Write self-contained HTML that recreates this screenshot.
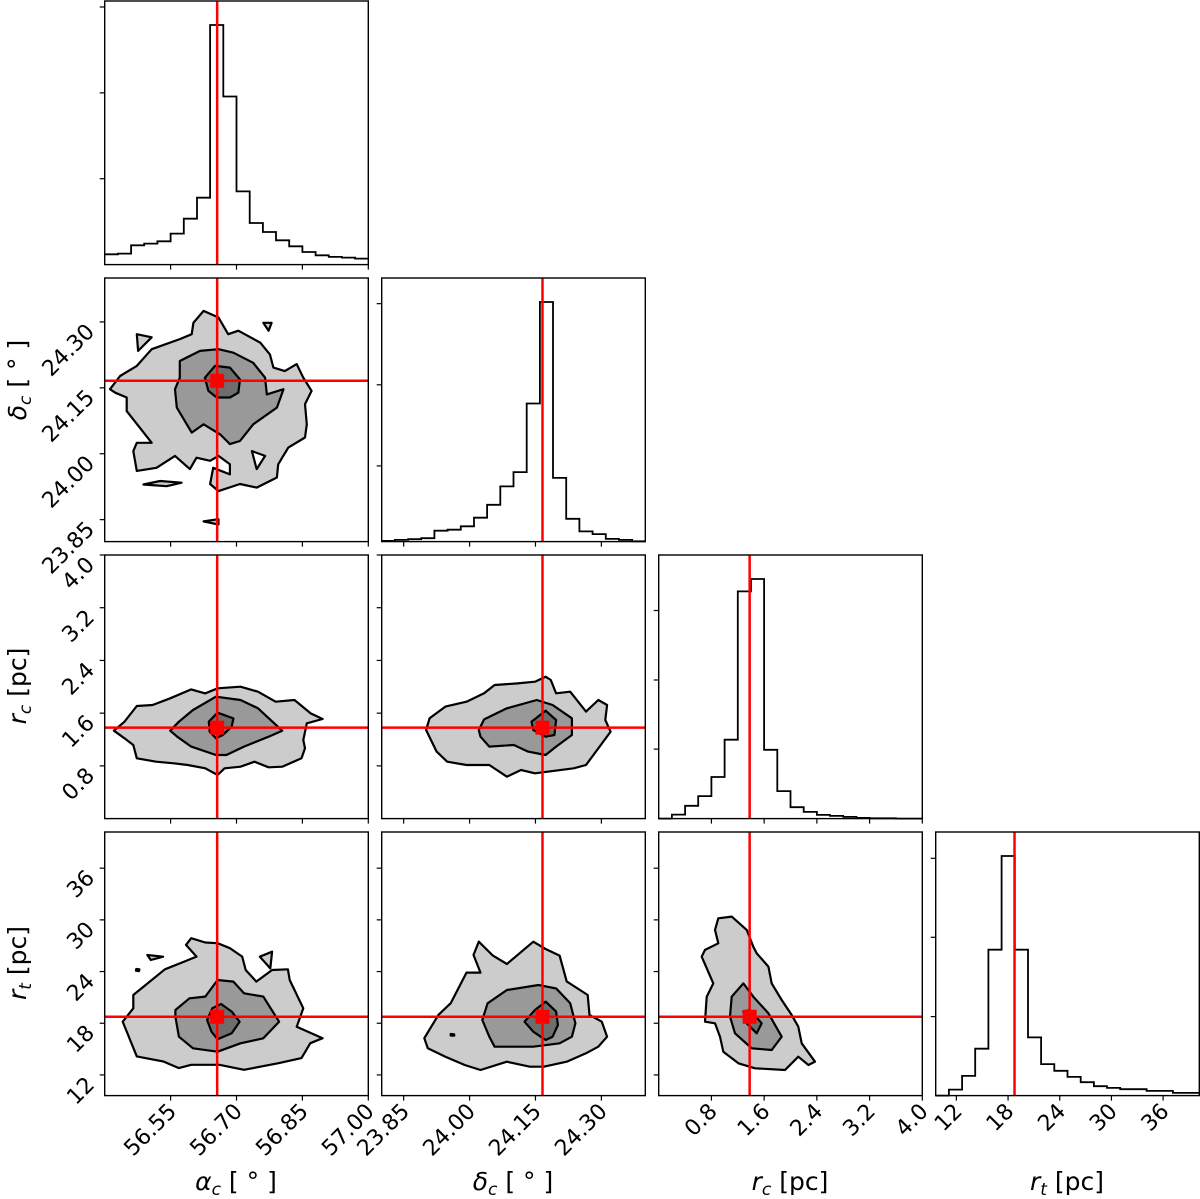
<!DOCTYPE html>
<html><head><meta charset="utf-8"><style>
html,body{margin:0;padding:0;background:#fff;}
svg{display:block;font-family:"DejaVu Sans","Liberation Sans",sans-serif;}
</style></head><body>
<svg id="fig" xmlns="http://www.w3.org/2000/svg" width="1200" height="1199" viewBox="0 0 1200 1199"></svg>
<script>
const paramNames=["alpha","delta","rc","rt"];
const paramRanges=[[56.4,57.0],[23.8,24.4],[0,4],[9.6,40.2]];
const truthValues=[56.656,24.166,1.38,18.75];
const tickValues=[[56.55,56.70,56.85,57.00],[23.85,24.00,24.15,24.30],[0.8,1.6,2.4,3.2,4.0],[12,18,24,30,36]];
const tickLabels=[["56.55","56.70","56.85","57.00"],["23.85","24.00","24.15","24.30"],["0.8","1.6","2.4","3.2","4.0"],["12","18","24","30","36"]];
const histAlpha=[31,33,58,63,70,93,138,201,720,505,220,125,98,73,55,38,28,23,21,18];
const histDelta=[2,5,7,10,32,35,45,70,108,162,204,405,703,187,67,30,22,8,5,1];
const histRc=[0,12,38,67,124,235,677,714,205,82,34,20,11,8,5,2,1,1,0,0];
const histRt=[0,18,59,140,436,716,436,174,94,74,56,40,28,23,19,19,14,14,8,8];
const histTicks=[[258,516,774],[222,460,698],[207,413,620],[236,473,709]];
const c10o=[[56.412,24.147],[56.435,24.177],[56.473,24.200],[56.507,24.238],[56.571,24.261],[56.598,24.272],[56.602,24.298],[56.625,24.325],[56.659,24.310],[56.681,24.272],[56.704,24.280],[56.754,24.253],[56.776,24.226],[56.784,24.196],[56.810,24.188],[56.837,24.204],[56.852,24.173],[56.871,24.143],[56.856,24.113],[56.860,24.067],[56.856,24.037],[56.818,24.014],[56.795,23.976],[56.792,23.946],[56.746,23.923],[56.708,23.931],[56.659,23.915],[56.640,23.931],[56.647,23.968],[56.685,23.953],[56.685,23.976],[56.659,23.995],[56.640,23.984],[56.609,23.991],[56.594,23.965],[56.560,23.995],[56.518,23.968],[56.473,23.961],[56.465,24.006],[56.473,24.025],[56.507,24.025],[56.450,24.097],[56.450,24.128],[56.424,24.139]];
const c10m=[[56.571,24.211],[56.617,24.234],[56.659,24.238],[56.693,24.230],[56.738,24.207],[56.765,24.173],[56.769,24.135],[56.807,24.147],[56.792,24.105],[56.738,24.067],[56.708,24.029],[56.685,24.022],[56.663,24.044],[56.625,24.067],[56.598,24.048],[56.564,24.105],[56.560,24.147],[56.571,24.173]];
const c10i=[[56.628,24.173],[56.651,24.200],[56.685,24.196],[56.708,24.169],[56.704,24.139],[56.685,24.128],[56.655,24.128],[56.636,24.143]];
const c10islandA=[[56.473,24.272],[56.507,24.265],[56.476,24.234]];
const c10islandB=[[56.761,24.298],[56.780,24.298],[56.773,24.280]];
const c10islandC=[[56.526,23.938],[56.575,23.934],[56.541,23.926],[56.488,23.930]];
const c10islandD=[[56.625,23.846],[56.659,23.851],[56.659,23.839]];
const c10hole=[[56.735,24.006],[56.765,23.995],[56.746,23.965]];
const c20o=[[56.421,1.334],[56.445,1.471],[56.473,1.709],[56.509,1.724],[56.549,1.825],[56.597,1.961],[56.629,1.900],[56.657,1.977],[56.709,2.002],[56.749,1.926],[56.789,1.774],[56.832,1.800],[56.869,1.597],[56.896,1.511],[56.860,1.446],[56.852,1.193],[56.856,1.067],[56.848,0.915],[56.804,0.788],[56.773,0.778],[56.741,0.864],[56.709,0.788],[56.673,0.763],[56.657,0.662],[56.629,0.763],[56.589,0.813],[56.557,0.839],[56.517,0.864],[56.473,0.915],[56.465,1.117],[56.445,1.218]];
const c20m=[[56.549,1.334],[56.569,1.471],[56.601,1.648],[56.653,1.850],[56.709,1.800],[56.749,1.673],[56.804,1.334],[56.773,1.243],[56.717,1.092],[56.677,0.965],[56.653,0.965],[56.597,1.092],[56.565,1.243]];
const c20i=[[56.637,1.471],[56.657,1.607],[56.693,1.521],[56.689,1.395],[56.669,1.269],[56.653,1.218],[56.639,1.319]];
const c21o=[[23.901,1.345],[23.909,1.522],[23.945,1.699],[23.993,1.774],[24.033,1.901],[24.057,2.027],[24.109,2.052],[24.149,2.078],[24.173,2.153],[24.185,2.103],[24.197,1.901],[24.229,1.926],[24.265,1.623],[24.293,1.800],[24.313,1.724],[24.309,1.496],[24.321,1.319],[24.293,1.066],[24.265,0.813],[24.237,0.763],[24.149,0.687],[24.117,0.738],[24.085,0.636],[24.045,0.813],[23.993,0.813],[23.949,0.864],[23.925,1.016]];
const c21m=[[24.021,1.345],[24.033,1.506],[24.085,1.673],[24.153,1.800],[24.189,1.724],[24.233,1.522],[24.233,1.269],[24.197,1.092],[24.173,0.965],[24.133,1.016],[24.101,1.117],[24.045,1.092],[24.025,1.243]];
const c21i=[[24.141,1.471],[24.173,1.638],[24.197,1.496],[24.193,1.269],[24.173,1.243],[24.145,1.345]];
const c30o=[[56.441,18.18],[56.465,19.73],[56.465,21.28],[56.493,22.44],[56.537,24.26],[56.581,25.16],[56.609,25.74],[56.585,27.09],[56.597,27.87],[56.629,27.37],[56.657,27.29],[56.685,26.71],[56.713,25.74],[56.721,24.18],[56.745,22.83],[56.781,24.18],[56.817,24.26],[56.821,23.02],[56.852,19.73],[56.837,17.59],[56.896,16.26],[56.868,15.68],[56.848,13.95],[56.797,13.37],[56.717,12.59],[56.661,13.18],[56.597,13.18],[56.569,12.79],[56.533,13.57],[56.473,14.15]];
const c30m=[[56.561,18.76],[56.561,19.54],[56.593,20.89],[56.629,21.09],[56.657,23.02],[56.693,22.83],[56.717,21.47],[56.761,21.09],[56.797,18.18],[56.761,16.25],[56.709,15.67],[56.657,14.70],[56.601,15.09],[56.569,16.44]];
const c30i=[[56.633,18.38],[56.645,19.73],[56.665,20.23],[56.689,19.35],[56.707,18.18],[56.689,16.83],[56.657,16.13],[56.643,17.02]];
const c30islandA=[[56.497,25.92],[56.533,25.73],[56.505,25.34]];
const c30islandB=[[56.753,25.73],[56.781,26.31],[56.777,24.37]];
const c30islandC=[[56.472,24.30],[56.479,24.25],[56.478,24.05],[56.471,24.10]];
const c31o=[[23.897,16.26],[23.929,18.97],[23.957,20.33],[23.993,23.88],[24.025,23.88],[24.009,25.92],[24.021,27.47],[24.053,25.85],[24.085,24.88],[24.145,27.47],[24.173,26.62],[24.205,25.85],[24.221,22.86],[24.269,21.28],[24.273,18.96],[24.301,18.18],[24.313,16.44],[24.293,15.28],[24.265,14.51],[24.221,13.54],[24.169,12.96],[24.137,12.96],[24.085,13.54],[24.025,12.57],[23.989,13.15],[23.945,14.12],[23.905,15.09]];
const c31m=[[24.029,18.38],[24.041,20.31],[24.085,21.86],[24.157,22.44],[24.197,22.05],[24.229,20.31],[24.241,17.99],[24.233,16.44],[24.205,15.67],[24.145,15.28],[24.057,15.28],[24.045,16.44]];
const c31i=[[24.125,18.18],[24.149,19.54],[24.173,20.51],[24.197,19.35],[24.201,17.79],[24.189,16.44],[24.173,16.05],[24.145,17.02]];
const c31islandA=[[23.957,16.75],[23.965,16.70],[23.965,16.55],[23.957,16.58]];
const c32o=[[0.703,18.18],[0.728,21.08],[0.829,22.63],[0.652,25.73],[0.703,26.51],[0.905,27.28],[0.854,28.83],[0.905,30.18],[1.107,30.38],[1.335,28.83],[1.436,26.89],[1.487,26.12],[1.664,24.57],[1.715,22.63],[1.866,20.70],[2.018,18.96],[2.119,17.60],[2.170,15.67],[2.372,13.54],[2.271,13.15],[2.119,14.12],[1.917,12.57],[1.461,12.77],[1.209,13.35],[0.981,14.70],[0.930,16.44],[0.854,17.99]];
const c32m=[[1.082,18.76],[1.107,21.08],[1.285,22.63],[1.436,21.08],[1.664,19.15],[1.866,16.44],[1.715,14.89],[1.411,15.09],[1.158,16.83]];
const c32i=[[1.284,19.34],[1.385,19.54],[1.563,17.99],[1.487,16.83],[1.335,17.99]];

const NS="http://www.w3.org/2000/svg";
const svg=document.getElementById('fig');
const L0=104.7,T0=1,PITCH=277,W=263.6;
function colLeft(c){return L0+c*PITCH;}
function rowTop(r){return T0+r*PITCH;}
function xScale(c,v){const[a,b]=paramRanges[c];return colLeft(c)+(v-a)/(b-a)*W;}
function yScale(r,v){const[a,b]=paramRanges[r];return rowTop(r)+W-(v-a)/(b-a)*W;}
function mk(tag,attrs,parent){const e=document.createElementNS(NS,tag);for(const k in attrs)e.setAttribute(k,attrs[k]);(parent||svg).appendChild(e);return e;}

function drawPoly(g,r,c,pts,fill,name){
  const d=pts.map((p,i)=>(i?'L':'M')+xScale(c,p[0]).toFixed(1)+','+yScale(r,p[1]).toFixed(1)).join('')+'Z';
  const p=mk('path',{d:d,fill:fill,stroke:'#000','stroke-width':2.2,'stroke-linejoin':'round'},g);
  
  
}
const g1='#cccccc',g2='#999999',g3='#6e6e6e';
const contourSets=[
 [1,0,[[c10o,g1],[c10islandA,g1],[c10islandB,g1],[c10islandC,g1],[c10islandD,g1],[c10hole,'#fff'],[c10m,g2],[c10i,g3]]],
 [2,0,[[c20o,g1],[c20m,g2],[c20i,g3]]],
 [2,1,[[c21o,g1],[c21m,g2],[c21i,g3]]],
 [3,0,[[c30o,g1],[c30islandA,g1],[c30islandB,g1],[c30islandC,g1],[c30m,g2],[c30i,g3]]],
 [3,1,[[c31o,g1],[c31islandA,g1],[c31m,g2],[c31i,g3]]],
 [3,2,[[c32o,g1],[c32m,g2],[c32i,g3]]]
];
const hists=[histAlpha,histDelta,histRc,histRt];

function tickText(x,y,txt,name){
  const t=mk('text',{x:x,y:y,'font-size':22,'text-anchor':'end',transform:`rotate(-45 ${x} ${y})`});
  t.textContent=txt;
  
  
}

for(let r=0;r<4;r++){
 for(let c=0;c<=r;c++){
  const x0=colLeft(c),y0=rowTop(r);
  const g=mk('g',{});
  
  
  if(r===c){
   const h=hists[c];const mx=Math.max(...h)*1.1;
   const bw=W/h.length;
   let d='';
   h.forEach((v,i)=>{const yy=y0+W-v/mx*W;const xa=x0+i*bw,xb=xa+bw;d+=(i?'L':'M')+xa.toFixed(1)+','+yy.toFixed(1)+'L'+xb.toFixed(1)+','+yy.toFixed(1);});
   const hp=mk('path',{d:d,fill:'none',stroke:'#000','stroke-width':1.8},g);
   
   
   histTicks[c].forEach(v=>{const yy=y0+W-v/mx*W;mk('line',{x1:x0-5,x2:x0,y1:yy,y2:yy,stroke:'#000','stroke-width':1.2},g);});
   const tl=mk('line',{x1:xScale(c,truthValues[c]),x2:xScale(c,truthValues[c]),y1:y0,y2:y0+W,stroke:'#ff0000','stroke-width':2.5},g);
   
   
  } else {
   for(const cs of contourSets){ if(cs[0]===r&&cs[1]===c){ cs[2].forEach((pp,k)=>drawPoly(g,r,c,pp[0],pp[1],`contour-${paramNames[r]}-${paramNames[c]}-${k}`)); } }
   const tx=xScale(c,truthValues[c]),ty=yScale(r,truthValues[r]);
   const vl=mk('line',{x1:tx,x2:tx,y1:y0,y2:y0+W,stroke:'#ff0000','stroke-width':2.5},g);
   
   
   const hl=mk('line',{x1:x0,x2:x0+W,y1:ty,y2:ty,stroke:'#ff0000','stroke-width':2.5},g);
   
   
   const m=mk('rect',{x:tx-7,y:ty-7,width:14,height:14,fill:'#ff0000'},g);
   
   
   tickValues[r].forEach((v,i)=>{const yy=yScale(r,v);if(yy<y0-0.5||yy>y0+W+0.5)return;mk('line',{x1:x0-5,x2:x0,y1:yy,y2:yy,stroke:'#000','stroke-width':1.2},g);
     if(c===0) tickText(x0-9,yy+11,tickLabels[r][i],`y-tick-label-${paramNames[r]}`);});
  }
  tickValues[c].forEach((v,i)=>{const xx=xScale(c,v);if(xx<x0-0.5||xx>x0+W+0.5)return;mk('line',{x1:xx,x2:xx,y1:y0+W,y2:y0+W+5,stroke:'#000','stroke-width':1.2},g);
    if(r===3) tickText(xx+7,y0+W+17,tickLabels[c][i],`x-tick-label-${paramNames[c]}`);});
  const fr=mk('rect',{x:x0,y:y0,width:W,height:W,fill:'none',stroke:'#000','stroke-width':1.4},g);
  
  
 }
}
</script>
<svg style="position:absolute;left:0;top:0" width="1200" height="1199">
<g font-family="DejaVu Sans, Liberation Sans, sans-serif" font-size="25">
<text x="236" y="1190" text-anchor="middle"><tspan font-style="italic">α</tspan><tspan font-size="17" dy="5" font-style="italic">c</tspan><tspan dy="-5">  [ ° ]</tspan></text>
<text x="513" y="1190" text-anchor="middle"><tspan font-style="italic">δ</tspan><tspan font-size="17" dy="5" font-style="italic">c</tspan><tspan dy="-5">  [ ° ]</tspan></text>
<text x="790" y="1190" text-anchor="middle"><tspan font-style="italic">r</tspan><tspan font-size="17" dy="5" font-style="italic">c</tspan><tspan dy="-5"> [pc]</tspan></text>
<text x="1067" y="1190" text-anchor="middle"><tspan font-style="italic">r</tspan><tspan font-size="17" dy="5" font-style="italic">t</tspan><tspan dy="-5"> [pc]</tspan></text>
<text x="0" y="0" text-anchor="middle" transform="translate(26 380) rotate(-90)"><tspan font-style="italic">δ</tspan><tspan font-size="17" dy="5" font-style="italic">c</tspan><tspan dy="-5">  [ ° ]</tspan></text>
<text x="0" y="0" text-anchor="middle" transform="translate(26 686) rotate(-90)"><tspan font-style="italic">r</tspan><tspan font-size="17" dy="5" font-style="italic">c</tspan><tspan dy="-5"> [pc]</tspan></text>
<text x="0" y="0" text-anchor="middle" transform="translate(26 963) rotate(-90)"><tspan font-style="italic">r</tspan><tspan font-size="17" dy="5" font-style="italic">t</tspan><tspan dy="-5"> [pc]</tspan></text>
</g></svg>
</body></html>
